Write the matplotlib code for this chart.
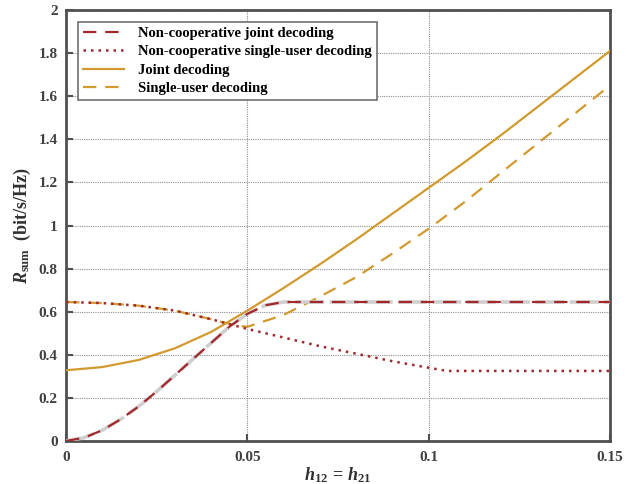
import matplotlib
matplotlib.use('Agg')
import matplotlib.pyplot as plt
import numpy as np

plt.rcParams['font.family'] = 'Liberation Serif'
plt.rcParams['mathtext.fontset'] = 'custom'
plt.rcParams['mathtext.rm'] = 'Liberation Serif:bold'
plt.rcParams['mathtext.it'] = 'Liberation Serif:bold:italic'
plt.rcParams['mathtext.bf'] = 'Liberation Serif:bold'

# non-cooperative joint decoding
x_ncj = [0, 0.005, 0.01, 0.015, 0.02, 0.025, 0.03, 0.035, 0.04, 0.045, 0.05, 0.055, 0.06, 0.15]
y_ncj = [0, 0.015, 0.05, 0.10, 0.16, 0.23, 0.305, 0.38, 0.455, 0.53, 0.59, 0.63, 0.645, 0.645]

# non-cooperative single-user decoding
x_ncs = [0, 0.01, 0.02, 0.03, 0.04, 0.05, 0.06, 0.07, 0.08, 0.09, 0.1, 0.105, 0.15]
y_ncs = [0.645, 0.64, 0.628, 0.605, 0.565, 0.52, 0.48, 0.44, 0.405, 0.37, 0.34, 0.325, 0.325]

# joint decoding
x_jd = [0, 0.01, 0.02, 0.03, 0.04, 0.05, 0.06, 0.07, 0.08, 0.09, 0.1, 0.11, 0.12, 0.13, 0.14, 0.15]
y_jd = [0.328, 0.343, 0.376, 0.43, 0.506, 0.605, 0.71, 0.82, 0.935, 1.055, 1.175, 1.295, 1.42, 1.55, 1.68, 1.81]

# single-user decoding
x_su = [0, 0.01, 0.02, 0.03, 0.04, 0.047, 0.05, 0.06, 0.07, 0.08, 0.09, 0.1, 0.11, 0.12, 0.13, 0.14, 0.15]
y_su = [0.645, 0.64, 0.628, 0.605, 0.565, 0.535, 0.53, 0.585, 0.67, 0.76, 0.87, 0.985, 1.11, 1.245, 1.38, 1.515, 1.65]

gold = '#d29a2e'
red = '#a3282c'
spine = '#505050'

fig, ax = plt.subplots(figsize=(6.3, 4.84), dpi=100)
fig.subplots_adjust(left=0.105, right=0.968, top=0.979, bottom=0.089)

ax.plot(x_jd, y_jd, color=gold, lw=1.6, label='Joint decoding', zorder=3)
ax.plot(x_su, y_su, color=gold, lw=1.6, ls=(0, (6, 4)), label='Single-user decoding', zorder=3)
ax.plot(x_ncj, y_ncj, color='#cfcfcf', lw=2.6, ls=(0, (8, 1.5)), zorder=3)
ax.plot(x_ncj, y_ncj, color=red, lw=1.6, ls=(0, (6, 4)), label='Non-cooperative joint decoding', zorder=4)
ax.plot(x_ncs, y_ncs, color=red, lw=1.8, ls=(0, (1, 2)), label='Non-cooperative single-user decoding', zorder=4)

ax.set_xlim(0, 0.15)
ax.set_ylim(0, 2)
ax.set_xticks([0, 0.05, 0.1, 0.15])
ax.set_xticklabels(['0', '0.05', '0.1', '0.15'])
ax.set_yticks(np.arange(0, 2.01, 0.2))
ax.set_yticklabels(['0', '0.2', '0.4', '0.6', '0.8', '1', '1.2', '1.4', '1.6', '1.8', '2'])
ax.grid(True, color='#909090', ls=(0, (1, 1)), lw=0.8)
ax.tick_params(direction='in', length=5, width=1.5, colors=spine, labelsize=11)
ax.tick_params(axis='x', pad=7)
ax.tick_params(axis='y', pad=6)
for lab in ax.get_xticklabels() + ax.get_yticklabels():
    lab.set_fontweight('bold')
    lab.set_color('#404040')
for s in ax.spines.values():
    s.set_linewidth(2)
    s.set_color(spine)

ax.set_xlabel(r'$h_{12}\,=\,h_{21}$', fontsize=13, color='#303030', labelpad=1)
ax.set_ylabel(r'$R_{\rm sum}$  (bit/s/Hz)', fontsize=13, fontweight='bold', color='#303030')

h, l = ax.get_legend_handles_labels()
order = [2, 3, 0, 1]
leg = ax.legend([h[i] for i in order], [l[i] for i in order], loc='upper left',
                bbox_to_anchor=(0.008, 0.99), fancybox=False, framealpha=1,
                prop={'weight': 'bold', 'size': 10.5}, handlelength=2.8,
                borderpad=0.35, labelspacing=0.35, handletextpad=1.0)
leg.get_frame().set_edgecolor('#707070')
leg.get_frame().set_linewidth(1.2)

fig.savefig('out.png', dpi=100)
